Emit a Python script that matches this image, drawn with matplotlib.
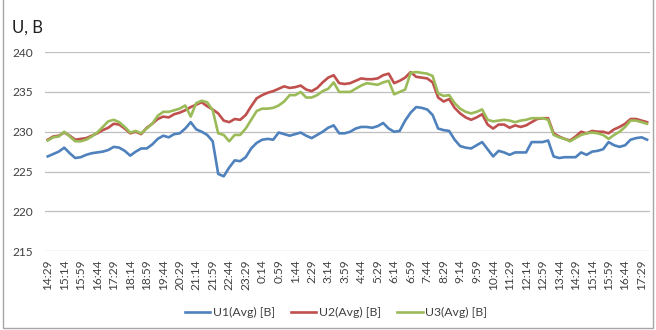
import matplotlib.pyplot as plt
from matplotlib.patches import Rectangle
import numpy as np

plt.rcParams['font.family'] = ['Lato', 'DejaVu Sans']

# подписи по оси времени (каждая третья точка, шаг 15 минут)
tick_labels = ['14:29', '15:14', '15:59', '16:44', '17:29', '18:14', '18:59',
               '19:44', '20:29', '21:14', '21:59', '22:44', '23:29', '0:14',
               '0:59', '1:44', '2:29', '3:14', '3:59', '4:44', '5:29', '6:14',
               '6:59', '7:44', '8:29', '9:14', '9:59', '10:44', '11:29',
               '12:14', '12:59', '13:44', '14:29', '15:14', '15:59', '16:44',
               '17:29']

u1 = [226.9, 227.2, 227.5, 228.0, 227.3, 226.7, 226.8, 227.1, 227.3, 227.4,
      227.5, 227.7, 228.1, 228.0, 227.6, 227.0, 227.5, 227.9, 227.9, 228.4,
      229.1, 229.5, 229.3, 229.7, 229.8, 230.4, 231.2, 230.3, 230.0, 229.6,
      228.8, 224.7, 224.4, 225.5, 226.4, 226.3, 226.8, 227.9, 228.6, 229.0,
      229.1, 229.0, 229.9, 229.7, 229.5, 229.7, 229.9, 229.5, 229.2, 229.6,
      230.0, 230.5, 230.8, 229.8, 229.8, 230.0, 230.4, 230.6, 230.6, 230.5,
      230.7, 231.1, 230.4, 230.0, 230.1, 231.4, 232.4, 233.1, 233.0, 232.8,
      232.1, 230.4, 230.2, 230.1, 229.0, 228.2, 228.0, 227.9, 228.3, 228.7,
      227.8, 226.9, 227.6, 227.4, 227.1, 227.4, 227.4, 227.4, 228.7, 228.7,
      228.7, 228.9, 226.9, 226.7, 226.8, 226.8, 226.8, 227.4, 227.1, 227.5,
      227.6, 227.8, 228.7, 228.3, 228.1, 228.3, 229.0, 229.2, 229.3, 229.0]

u2 = [229.0, 229.4, 229.5, 229.9, 229.5, 229.0, 229.1, 229.2, 229.5, 229.8,
      230.2, 230.5, 231.0, 230.9, 230.4, 229.8, 230.0, 229.7, 230.5, 231.0,
      231.6, 231.9, 231.8, 232.2, 232.4, 232.7, 233.1, 233.4, 233.7, 233.2,
      232.8, 232.3, 231.4, 231.2, 231.6, 231.5, 232.1, 233.2, 234.2, 234.6,
      234.9, 235.1, 235.4, 235.7, 235.5, 235.6, 235.8, 235.3, 235.1, 235.5,
      236.2, 236.8, 237.1, 236.1, 236.0, 236.1, 236.4, 236.7, 236.6, 236.6,
      236.7, 237.1, 237.3, 236.1, 236.4, 236.8, 237.5, 236.9, 236.8, 236.7,
      236.2, 234.3, 233.8, 234.1, 233.0, 232.3, 231.8, 231.5, 231.8, 232.2,
      230.9, 230.4, 230.9, 230.9, 230.5, 230.8, 230.6, 230.8, 231.2, 231.6,
      231.7, 231.7, 229.8, 229.4, 229.1, 228.9, 229.4, 230.0, 229.8, 230.1,
      230.0, 230.0, 229.8, 230.3, 230.6, 231.0, 231.6, 231.6, 231.4, 231.2]

u3 = [228.9, 229.3, 229.4, 230.0, 229.4, 228.8, 228.8, 229.0, 229.4, 229.9,
      230.6, 231.3, 231.5, 231.2, 230.6, 229.9, 230.1, 229.8, 230.4, 231.0,
      232.0, 232.5, 232.5, 232.7, 232.9, 233.3, 231.9, 233.6, 233.9, 233.7,
      232.7, 229.8, 229.6, 228.8, 229.6, 229.6, 230.4, 231.5, 232.6, 232.9,
      232.9, 233.0, 233.3, 233.8, 234.6, 234.6, 235.0, 234.3, 234.3, 234.6,
      235.1, 235.4, 236.2, 235.0, 235.0, 235.0, 235.4, 235.8, 236.1, 236.0,
      235.9, 236.2, 236.4, 234.7, 235.0, 235.3, 237.4, 237.5, 237.4, 237.3,
      237.0, 234.8, 234.5, 234.6, 233.6, 232.9, 232.5, 232.3, 232.5, 232.8,
      231.5, 231.3, 231.4, 231.5, 231.4, 231.2, 231.4, 231.5, 231.7, 231.7,
      231.7, 231.5, 229.6, 229.3, 229.1, 228.8, 229.2, 229.6, 229.8, 229.9,
      229.8, 229.6, 229.1, 229.6, 230.0, 230.6, 231.4, 231.4, 231.2, 231.0]

series = [('U1(Avg) [B]', u1, '#4F81BD'),
          ('U2(Avg) [B]', u2, '#C0504D'),
          ('U3(Avg) [B]', u3, '#9BBB59')]

fig = plt.figure(figsize=(6.56, 3.3), dpi=100)
ax = fig.add_axes([0.0686, 0.239, 0.922, 0.603])

x = np.arange(len(u1))
for name, vals, col in series:
    ax.plot(x, vals, color=col, lw=1.9, label=name, solid_joinstyle='round')

ax.set_xlim(-0.5, len(u1) - 0.5)
ax.set_ylim(215, 240)
ax.set_yticks(np.arange(215, 241, 5))
ax.set_xticks(np.arange(0, len(u1), 3))
ax.set_xticklabels(tick_labels, rotation=90)
ax.tick_params(axis='both', length=0, labelsize=8.6, colors='#404040')
ax.tick_params(axis='x', pad=6)
ax.tick_params(axis='y', pad=8.5)
ax.grid(axis='y', color='#BFBFBF', lw=0.9)
ax.set_axisbelow(True)
for s in ax.spines.values():
    s.set_visible(False)

fig.text(0.019, 0.917, 'U, B', fontsize=12, color='#202020', va='center')

fig.legend(loc='center', bbox_to_anchor=(0.512, 0.052), ncol=3, frameon=False,
           fontsize=8.8, handlelength=2.1, columnspacing=1.3, handletextpad=0.2,
           labelcolor='#404040')

# рамка вокруг диаграммы
fig.patches.append(Rectangle((3 / 656, 2 / 330), 650 / 656, 335 / 330,
                             transform=fig.transFigure, fill=False,
                             edgecolor='#A6A6A6', lw=1))

fig.savefig('out.png', dpi=100)
